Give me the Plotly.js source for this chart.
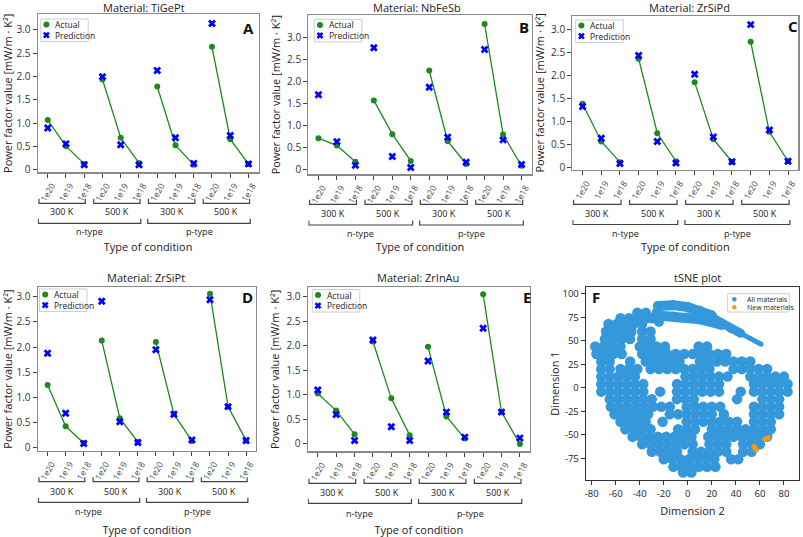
<!DOCTYPE html>
<html><head><meta charset="utf-8">
<script src="https://cdn.plot.ly/plotly-3.0.1.min.js"></script>
<style>html,body{margin:0;padding:0;background:#fff}#chart{width:803px;height:537px}</style>
</head><body><div id="chart"></div>
<script>
// ---------------- data ----------------
const materials = ['TiGePt','NbFeSb','ZrSiPd','ZrSiPt','ZrInAu'];
const panelLetters = ['A','B','C','D','E'];
const seriesNames = ['Actual','Prediction'];
const tsneNames = ['All materials','New materials'];
const dopingTicks = ['1e20','1e19','1e18','1e20','1e19','1e18','1e20','1e19','1e18','1e20','1e19','1e18'];
const tempLabels = ['300 K','500 K','300 K','500 K'];
const typeLabels = ['n-type','p-type'];
const yTickVals = [0,0.5,1.0,1.5,2.0,2.5,3.0];
const yTickText = ['0','0.5','1.0','1.5','2.0','2.5','3.0'];

const actualTiGePt = [1.07,0.51,0.13, 1.94,0.69,0.15, 1.79,0.53,0.11, 2.64,0.66,0.13];
const predTiGePt   = [0.90,0.56,0.11, 2.00,0.54,0.11, 2.13,0.69,0.14, 3.14,0.74,0.13];
const actualNbFeSb = [0.71,0.54,0.17, 1.57,0.80,0.19, 2.25,0.64,0.12, 3.31,0.79,0.08];
const predNbFeSb   = [1.70,0.63,0.09, 2.77,0.29,0.04, 1.87,0.73,0.16, 2.73,0.67,0.11];
const actualZrSiPd = [1.39,0.57,0.12, 2.37,0.75,0.14, 1.86,0.62,0.13, 2.74,0.78,0.14];
const predZrSiPd   = [1.33,0.64,0.09, 2.44,0.57,0.10, 2.03,0.67,0.13, 3.11,0.82,0.14];
const actualZrSiPt = [1.25,0.43,0.10, 2.13,0.59,0.12, 2.10,0.67,0.14, 3.06,0.82,0.15];
const predZrSiPt   = [1.88,0.69,0.09, 2.91,0.52,0.11, 1.95,0.67,0.16, 2.94,0.82,0.15];
const actualZrInAu = [1.03,0.68,0.20, 2.09,0.93,0.18, 1.98,0.56,0.11, 3.05,0.65,0.00];
const predZrInAu   = [1.10,0.60,0.07, 2.12,0.35,0.07, 1.69,0.65,0.14, 2.36,0.65,0.12];

// tSNE embedding. Upper arm: chains of dense clusters (null = break).
const tsneArmX = [-25,-12,0,10,20, null, -26,-24, null, -25,-12,0,10,20,28];
const tsneArmY = [87,88,86,82,77, null, 80,70, null, 77,76,75,73,70,67];
const tsneArmMidX = [20,28,36,44];
const tsneArmMidY = [75,69,63,58];
const tsneTailX = [44,52,61];
const tsneTailY = [58,52.5,46.5];
// Main cloud: occupied cluster positions, read row by row (Dimension 1 value -> Dimension 2 values)
const tsneRowY = [80,74,68,60,52,44,36,28,20,12,4,-4,-12,-20,-28,-36,-44,-52,-60,-68,-76,-84,-90];
const tsneRowX = [
  [-42,-35],
  [-56,-49,-42,-35,-30],
  [-66,-59,-52,-45,-38],
  [-68,-61,-54,-47,-38,-31],
  [-69,-62,-55,-48,-38,-31],
  [-77,-70,-63,-56,-40,-33,-26,-19,9,16],
  [-76,-69,-62,-55,-38,-31,-24,-17,-10,-3,4,11,18,25,32],
  [-72,-65,-48,-35,-28,-21,-14,-7,10,17,24,31,38,45,52],
  [-72,-65,-56,-49,-42,-31,-24,-17,-10,-3,4,11,18,38,45,52,59,66],
  [-72,-65,-58,-51,-44,-2,5,12,19,26,33,52,59,66,73,80],
  [-72,-65,-58,-51,-44,-37,-9,-2,5,12,19,26,55,62,69,76,83],
  [-72,-65,-58,-51,-44,-37,-23,-9,-2,5,12,19,26,44,55,62,69,76,83],
  [-65,-58,-51,-44,-37,-30,-9,-2,5,41,62,69,76],
  [-64,-57,-50,-43,-36,-29,-22,-15,-1,6,13,20,27,55,62,69,76],
  [-61,-54,-47,-40,-33,-15,-8,-1,6,13,20,30,55,62,69,76],
  [-56,-49,-42,-35,-21,-1,6,13,20,27,34,41,55,62,69],
  [-52,-45,-38,-31,-8,-1,6,20,27,34,41,48,55,62,69],
  [-46,-39,-32,-25,-18,-11,-4,3,17,24,31,38,45,52,59,66],
  [-38,-31,-24,-17,-10,-3,4,18,25,32,46,53,60],
  [-30,-23,-16,-9,4,11,18,25,32,46,53],
  [-20,-13,-6,1,8,15,22,36,42],
  [-12,-5,2,9,16,23],
  [-4,3]
];
const newX = [55,56,56,57,64,65,66,67];
const newY = [-62,-64,-65,-66,-55,-54,-54,-53];
const tsneXTicks = [-80,-60,-40,-20,0,20,40,60,80];
const tsneYTicks = [-75,-50,-25,0,25,50,75,100];

const actuals = [actualTiGePt, actualNbFeSb, actualZrSiPd, actualZrSiPt, actualZrInAu];
const preds = [predTiGePt, predNbFeSb, predZrSiPd, predZrSiPt, predZrInAu];

// ---------------- layout helpers ----------------
const W = 803, H = 537;
const px = v => v / W;
const py = v => 1 - v / H;
const FONT = 'Open Sans, Noto Sans, sans-serif';
const GREEN = '#1c8a1c', BLUE = '#0000ff';
const TS_BLUE = '#3498db', TS_ORANGE = '#f39c12';

const panels = [
  {l:37.7, r:258.5, t:14.3, b:172.3, yr:[-0.05,3.336], leg:[40.7,19], letter:[248,28], title:[143.5,7.5],
   br:[203.3,223.3,211.7,231.7], so:41},
  {l:308.3, r:531.7, t:15, b:174.3, yr:[-0.114,3.515], leg:[314.3,19.3], letter:[524,27], title:[416.7,7.5],
   br:[204.3,225,213.3,233.3], so:39},
  {l:572.3, r:798.3, t:15.7, b:170, yr:[-0.05,3.304], leg:[575.7,20], letter:[793,26], title:[689,7.5],
   br:[204.3,224.5,213.3,233.3], so:43},
  {l:37.7, r:256, t:287.3, b:450.7, yr:[-0.054,3.187], leg:[39.5,289], letter:[247,297], title:[146,277.5],
   br:[481.7,502.3,491.7,511], so:50},
  {l:307.7, r:530, t:287.3, b:451.4, yr:[-0.151,3.193], leg:[312.3,289.5], letter:[527,297], title:[418,277.5],
   br:[483.3,503.3,492.7,513.3], so:51},
];

const traces = [];
const layout = {
  width: W, height: H,
  margin: {l:0, r:0, t:0, b:0, pad:0},
  paper_bgcolor: '#fff', plot_bgcolor: '#fff',
  font: {family: FONT, size: 10, color: '#222'},
  showlegend: false,
  shapes: [], annotations: []
};

// small framed key drawn in page pixels
function addKey(x0, y0, w, h, rows, fontSize, markX, textX) {
  layout.shapes.push({type:'rect', xref:'paper', yref:'paper', x0:px(x0), x1:px(x0+w), y0:py(y0+h), y1:py(y0),
    line:{color:'#cfcfcf', width:1}, fillcolor:'rgba(255,255,255,0.92)', layer:'above'});
  rows.forEach(r => {
    const cx = x0 + markX, cy = y0 + r.dy, s = r.size / 2;
    if (r.kind === 'x') {
      layout.shapes.push({type:'path', xref:'paper', yref:'paper', layer:'above',
        path:`M ${px(cx-s)},${py(cy-s)} L ${px(cx+s)},${py(cy+s)} M ${px(cx-s)},${py(cy+s)} L ${px(cx+s)},${py(cy-s)}`,
        line:{color:r.color, width:2.6}});
    } else {
      layout.shapes.push({type:'circle', xref:'paper', yref:'paper', layer:'above',
        x0:px(cx-s), x1:px(cx+s), y0:py(cy+s), y1:py(cy-s), fillcolor:r.color, line:{width:0}});
    }
    layout.annotations.push({text:r.name, xref:'paper', yref:'paper', x:px(x0+textX), y:py(cy),
      xanchor:'left', yanchor:'middle', showarrow:false, font:{size:fontSize, color:'#222'}});
  });
}

panels.forEach((p, i) => {
  const n = i + 1;
  const xa = n === 1 ? 'x' : 'x' + n;
  const ya = n === 1 ? 'y' : 'y' + n;
  // actual line broken between condition groups
  const lx = [], ly = [];
  actuals[i].forEach((v, k) => {
    lx.push(k); ly.push(v);
    if (k % 3 === 2 && k < actuals[i].length - 1) { lx.push(null); ly.push(null); }
  });
  traces.push({
    type: 'scatter', mode: 'lines+markers', x: lx, y: ly, xaxis: xa, yaxis: ya,
    name: seriesNames[0], connectgaps: false,
    line: {color: GREEN, width: 1.3},
    marker: {color: GREEN, size: 6, symbol: 'circle'}
  });
  traces.push({
    type: 'scatter', mode: 'markers', x: preds[i].map((v, k) => k), y: preds[i],
    xaxis: xa, yaxis: ya, name: seriesNames[1],
    marker: {color: BLUE, size: 7, symbol: 'x'}
  });

  layout['xaxis' + (n === 1 ? '' : n)] = {
    domain: [px(p.l), px(p.r)], anchor: ya, range: [-0.55, 11.55],
    tickmode: 'array', tickvals: dopingTicks.map((t, k) => k), ticktext: dopingTicks,
    tickangle: -60, ticklabelshift: 4, tickfont: {size: 8.5, color: '#444'},
    ticks: 'outside', ticklen: 4, tickcolor: '#444', tickwidth: 1,
    showline: true, linecolor: '#8a8a8a', linewidth: 1.2, mirror: true,
    showgrid: false, zeroline: false, fixedrange: true,
    title: {text: 'Type of condition', font: {size: 11, color: '#222'}, standoff: p.so}
  };
  layout['yaxis' + (n === 1 ? '' : n)] = {
    domain: [py(p.b), py(p.t)], anchor: xa, range: p.yr,
    tickmode: 'array', tickvals: yTickVals, ticktext: yTickText,
    tickfont: {size: 10, color: '#333'},
    ticks: 'outside', ticklen: 4, tickcolor: '#444', tickwidth: 1,
    showline: true, linecolor: '#8a8a8a', linewidth: 1.2, mirror: true,
    showgrid: false, zeroline: false, fixedrange: true,
    title: {text: 'Power factor value [mW/m · K²]', font: {size: 11, color: '#222'}, standoff: 4}
  };
  addKey(p.leg[0], p.leg[1], 47.5, 22.5, [
    {name: seriesNames[0], kind: 'o', color: GREEN, dy: 5.6, size: 6},
    {name: seriesNames[1], kind: 'x', color: BLUE, dy: 16.2, size: 5}
  ], 8.5, 5.7, 12.3);
  // panel title and letter
  layout.annotations.push({text: 'Material: ' + materials[i], xref: 'paper', yref: 'paper',
    x: px(p.title[0]), y: py(p.title[1]), xanchor: 'center', yanchor: 'middle', showarrow: false,
    font: {size: 11, color: '#222'}});
  layout.annotations.push({text: '<b>' + panelLetters[i] + '</b>', xref: 'paper', yref: 'paper',
    x: px(p.letter[0]), y: py(p.letter[1]), xanchor: 'center', yanchor: 'middle', showarrow: false,
    font: {size: 15, color: '#111'}});
  // group brackets below the axis
  const bracket = (x0, x1, yBase) => ({
    type: 'path', xref: xa, yref: 'paper',
    path: `M ${x0},${py(yBase - 4.5)} L ${x0},${py(yBase)} L ${x1},${py(yBase)} L ${x1},${py(yBase - 4.5)}`,
    line: {color: '#444', width: 1.2}
  });
  tempLabels.forEach((lab, g) => {
    const x0 = 3 * g - 0.48, x1 = 3 * g + 2.06;
    layout.shapes.push(bracket(x0, x1, p.br[0]));
    layout.annotations.push({text: lab, xref: xa, yref: 'paper', x: (x0 + x1) / 2, y: py(p.br[2]),
      xanchor: 'center', yanchor: 'middle', showarrow: false, font: {size: 9, color: '#222'}});
  });
  typeLabels.forEach((lab, t) => {
    const x0 = 6 * t - 0.52, x1 = 6 * t + 5.1;
    layout.shapes.push(bracket(x0, x1, p.br[1]));
    layout.annotations.push({text: lab, xref: xa, yref: 'paper', x: (x0 + x1) / 2, y: py(p.br[3]),
      xanchor: 'center', yanchor: 'middle', showarrow: false, font: {size: 9, color: '#222'}});
  });
});

// ---------------- panel F: tSNE ----------------
const cloudX = [], cloudY = [];
tsneRowY.forEach((yv, r) => tsneRowX[r].forEach(xv => { cloudX.push(xv); cloudY.push(yv); }));

traces.push({type:'scatter', mode:'markers', x: cloudX, y: cloudY, xaxis:'x6', yaxis:'y6',
  name: tsneNames[0], marker:{color:TS_BLUE, size:10.5, line:{width:0}}});
traces.push({type:'scatter', mode:'lines+markers', x: tsneArmX, y: tsneArmY, xaxis:'x6', yaxis:'y6',
  name: tsneNames[0], connectgaps:false, line:{color:TS_BLUE, width:10}, marker:{color:TS_BLUE, size:10}});
traces.push({type:'scatter', mode:'lines+markers', x: tsneArmMidX, y: tsneArmMidY, xaxis:'x6', yaxis:'y6',
  name: tsneNames[0], line:{color:TS_BLUE, width:9}, marker:{color:TS_BLUE, size:9}});
traces.push({type:'scatter', mode:'lines+markers', x: tsneTailX, y: tsneTailY, xaxis:'x6', yaxis:'y6',
  name: tsneNames[0], line:{color:TS_BLUE, width:5}, marker:{color:TS_BLUE, size:5}});
traces.push({type:'scatter', mode:'markers', x: newX, y: newY, xaxis:'x6', yaxis:'y6',
  name: tsneNames[1], marker:{color:TS_ORANGE, size:5}});

layout.xaxis6 = {
  domain: [px(586), px(799)], anchor: 'y6', range: [-84.7, 92.5],
  tickmode:'array', tickvals: tsneXTicks, ticktext: tsneXTicks.map(String),
  tickfont:{size:9.5, color:'#222'}, ticks:'outside', ticklen:4, tickcolor:'#333',
  showline:true, linecolor:'#333', linewidth:1.3, mirror:true, showgrid:false, zeroline:false,
  title:{text:'Dimension 2', font:{size:11, color:'#222'}, standoff:8}
};
layout.yaxis6 = {
  domain: [py(480), py(287.3)], anchor: 'x6', range: [-98, 107],
  tickmode:'array', tickvals: tsneYTicks, ticktext: tsneYTicks.map(String),
  tickfont:{size:9.5, color:'#222'}, ticks:'outside', ticklen:4, tickcolor:'#333',
  showline:true, linecolor:'#333', linewidth:1.3, mirror:true, showgrid:false, zeroline:false,
  title:{text:'Dimension 1', font:{size:11, color:'#222'}, standoff:0}
};
addKey(727.7, 293.7, 61.6, 18.3, [
  {name: tsneNames[0], kind: 'o', color: TS_BLUE, dy: 5.6, size: 4.5},
  {name: tsneNames[1], kind: 'o', color: TS_ORANGE, dy: 13.6, size: 4.5}
], 7, 6.6, 17);
layout.annotations.push({text:'tSNE plot', xref:'paper', yref:'paper', x:px(697.8), y:py(277),
  xanchor:'center', yanchor:'middle', showarrow:false, font:{size:11, color:'#222'}});
layout.annotations.push({text:'<b>F</b>', xref:'paper', yref:'paper', x:px(595.5), y:py(297),
  xanchor:'center', yanchor:'middle', showarrow:false, font:{size:15, color:'#111'}});

Plotly.newPlot('chart', traces, layout, {staticPlot: true, displayModeBar: false});
</script>
</body></html>
